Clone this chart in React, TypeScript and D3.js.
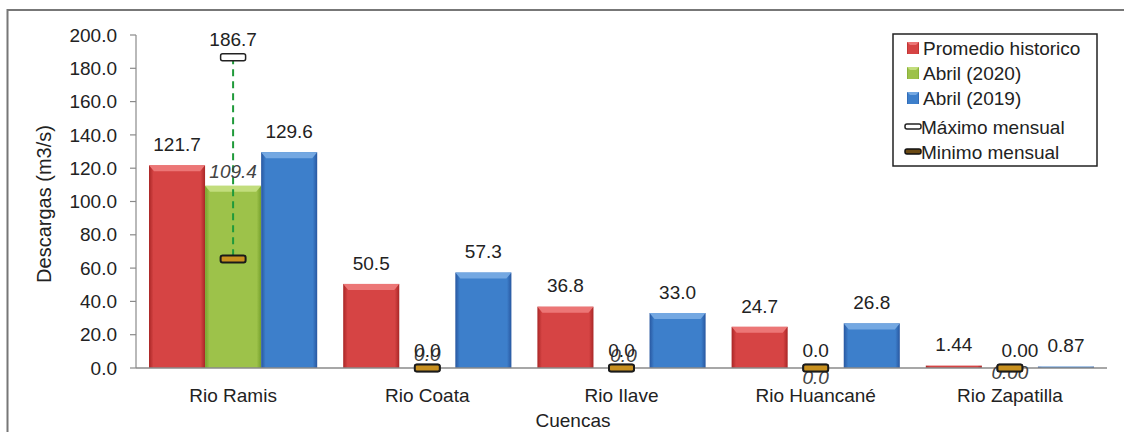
import React from "react";
import * as d3 from "d3";

// Caudales por cuenca (m3/s)
const categories = ["Rio Ramis", "Rio Coata", "Rio Ilave", "Rio Huancané", "Rio Zapatilla"];
const promedioHistorico = [121.7, 50.5, 36.8, 24.7, 1.44];
const abril2020 = [109.4, 0.0, 0.0, 0.0, 0.0];
const abril2019 = [129.6, 57.3, 33.0, 26.8, 0.87];
const maximoMensual = [186.7, 0.0, 0.0, 0.0, 0.0];
const minimoMensual = [65.5, 0.0, 0.0, 0.0, 0.0];
const decimals = [1, 1, 1, 1, 2];
const yTicks = [0, 20, 40, 60, 80, 100, 120, 140, 160, 180, 200];

const seriesNames = ["Promedio historico", "Abril (2020)", "Abril (2019)"];
const seriesValues = [promedioHistorico, abril2020, abril2019];

// label placement tweaks for the April 2020 labels and the max labels
const greenLabelDy = [-14, -14, -13, 9, 4];
const greenLabelDx = [0, 0, 2, 0, 0];
const maxLabelDx = [0, 0, 0, 0, 10];

const palette = [
  { base: "#d64444", dark: "#a92626", light: "#ec7676" },
  { base: "#9dc24a", dark: "#76a02c", light: "#c2dd7c" },
  { base: "#3d7fcb", dark: "#2857a0", light: "#74a8e2" },
];

const FONT = "'Liberation Sans', Arial, sans-serif";
const FS = 19;

const W = 1124;
const H = 432;
const left = 136;
const right = 1107;
const y0 = 368;
const yTop = 35;

export default function App() {
  const x0 = d3.scaleBand<string>().domain(categories).range([left, right]).padding(0);
  const step = x0.bandwidth();
  const x1 = d3.scaleBand<string>().domain(seriesNames).range([13, step - 13]).padding(0);
  const bw = x1.bandwidth();
  const y = d3.scaleLinear().domain([0, 200]).range([y0, yTop]);

  const fmt = (v: number, d: number) => d3.format(`.${d}f`)(v);

  const bar = (xPos: number, val: number, si: number, key: string) => {
    const yv = y(val);
    const h = y0 - yv;
    if (h <= 0) return null;
    const c = palette[si];
    const bev = Math.min(6, h / 2);
    return (
      <g key={key}>
        <rect x={xPos} y={yv} width={bw} height={h} fill={`url(#grad${si})`} />
        {h > 6 && (
          <polygon
            points={`${xPos},${yv} ${xPos + bw},${yv} ${xPos + bw - 5},${yv + bev} ${xPos + 5},${yv + bev}`}
            fill={c.light}
          />
        )}
      </g>
    );
  };

  return (
    <svg width={W} height={H} style={{ position: "absolute", left: 0, top: 0, background: "#fff" }}>
      <defs>
        {palette.map((c, i) => (
          <linearGradient key={i} id={`grad${i}`} x1="0" x2="1" y1="0" y2="0">
            <stop offset="0" stopColor={c.dark} />
            <stop offset="0.08" stopColor={c.base} />
            <stop offset="0.92" stopColor={c.base} />
            <stop offset="1" stopColor={c.dark} />
          </linearGradient>
        ))}
      </defs>

      {/* outer frame */}
      <rect x={7.5} y={10} width={1140} height={440} fill="none" stroke="#777" strokeWidth={2} />

      {/* y axis */}
      <line x1={left} x2={left} y1={yTop} y2={y0} stroke="#8a8a8a" strokeWidth={1.2} />
      {yTicks.map((t) => (
        <g key={t}>
          <line x1={left - 6} x2={left} y1={y(t)} y2={y(t)} stroke="#8a8a8a" strokeWidth={1.2} />
          <text
            x={117}
            y={y(t)}
            dy="0.35em"
            textAnchor="end"
            fontFamily={FONT}
            fontSize={FS}
            fill="#222"
          >
            {fmt(t, 1)}
          </text>
        </g>
      ))}
      <text
        transform={`translate(51,204) rotate(-90)`}
        textAnchor="middle"
        fontFamily={FONT}
        fontSize={20}
        fill="#222"
      >
        Descargas (m3/s)
      </text>

      {/* bars */}
      {categories.map((cat, ci) =>
        seriesNames.map((s, si) => bar(x0(cat)! + x1(s)!, seriesValues[si][ci], si, `${cat}-${s}`))
      )}

      {/* x axis */}
      <line x1={left} x2={right} y1={y0} y2={y0} stroke="#8a8a8a" strokeWidth={1.5} />
      {categories.map((cat) => (
        <text
          key={cat}
          x={x0(cat)! + step / 2}
          y={402}
          textAnchor="middle"
          fontFamily={FONT}
          fontSize={FS}
          fill="#222"
        >
          {cat}
        </text>
      ))}
      <text x={573} y={427} textAnchor="middle" fontFamily={FONT} fontSize={FS} fill="#222">
        Cuencas
      </text>

      {/* labels for historic average and April 2019 */}
      {categories.map((cat, ci) =>
        [0, 2].map((si) => (
          <text
            key={`${cat}-lab${si}`}
            x={x0(cat)! + x1(seriesNames[si])! + bw / 2}
            y={y(seriesValues[si][ci]) - 21}
            dy="0.35em"
            textAnchor="middle"
            fontFamily={FONT}
            fontSize={FS}
            fill="#222"
          >
            {fmt(seriesValues[si][ci], decimals[ci])}
          </text>
        ))
      )}

      {/* range line between monthly max and min */}
      {categories.map((cat, ci) => {
        const cx = x0(cat)! + step / 2;
        if (maximoMensual[ci] - minimoMensual[ci] <= 0) return null;
        return (
          <line
            key={`${cat}-rng`}
            x1={cx}
            x2={cx}
            y1={y(maximoMensual[ci])}
            y2={y(minimoMensual[ci])}
            stroke="#1f9a3a"
            strokeWidth={2}
            strokeDasharray="7,5"
          />
        );
      })}

      {/* April 2020 labels (italic) */}
      {categories.map((cat, ci) => (
        <text
          key={`${cat}-lab1`}
          x={x0(cat)! + x1(seriesNames[1])! + bw / 2 + greenLabelDx[ci]}
          y={y(abril2020[ci]) + greenLabelDy[ci]}
          dy="0.35em"
          textAnchor="middle"
          fontFamily={FONT}
          fontSize={FS}
          fontStyle="italic"
          fill="#444"
        >
          {fmt(abril2020[ci], decimals[ci])}
        </text>
      ))}

      {/* monthly max / min markers */}
      {categories.map((cat, ci) => {
        const cx = x0(cat)! + step / 2;
        return (
          <g key={`${cat}-mk`}>
            <rect
              x={cx - 12.5}
              y={y(maximoMensual[ci]) - 3.5}
              width={25}
              height={7}
              rx={2}
              fill="#fff"
              stroke="#222"
              strokeWidth={1.5}
            />
            <rect
              x={cx - 12.5}
              y={y(minimoMensual[ci]) - 3.5}
              width={25}
              height={7}
              rx={2}
              fill="#c8901f"
              stroke="#1a1a1a"
              strokeWidth={2}
            />
            <text
              x={cx + maxLabelDx[ci]}
              y={y(maximoMensual[ci]) - 18}
              dy="0.35em"
              textAnchor="middle"
              fontFamily={FONT}
              fontSize={FS}
              fill="#222"
            >
              {fmt(maximoMensual[ci], decimals[ci])}
            </text>
          </g>
        );
      })}

      {/* legend */}
      <g>
        <rect x={893} y={34} width={204} height={132} fill="#fff" stroke="#222" strokeWidth={1.5} />
        {seriesNames.map((s, i) => {
          const cy = 48 + i * 25;
          const c = palette[i];
          return (
            <g key={s}>
              <rect x={907} y={cy - 6} width={12} height={12} fill={`url(#grad${i})`} />
              <polygon points={`907,${cy - 6} 919,${cy - 6} 916,${cy - 3} 910,${cy - 3}`} fill={c.light} />
              <text x={923} y={cy} dy="0.35em" fontFamily={FONT} fontSize={FS} fill="#222">
                {s}
              </text>
            </g>
          );
        })}
        <rect x={905} y={124} width={16} height={5} rx={2} fill="#fff" stroke="#222" strokeWidth={1.5} />
        <text x={921} y={127} dy="0.35em" fontFamily={FONT} fontSize={FS} fill="#222">
          Máximo mensual
        </text>
        <rect x={905} y={149} width={16} height={5} rx={2} fill="#6b4a14" stroke="#111" strokeWidth={1.5} />
        <text x={921} y={152} dy="0.35em" fontFamily={FONT} fontSize={FS} fill="#222">
          Minimo mensual
        </text>
      </g>
    </svg>
  );
}
